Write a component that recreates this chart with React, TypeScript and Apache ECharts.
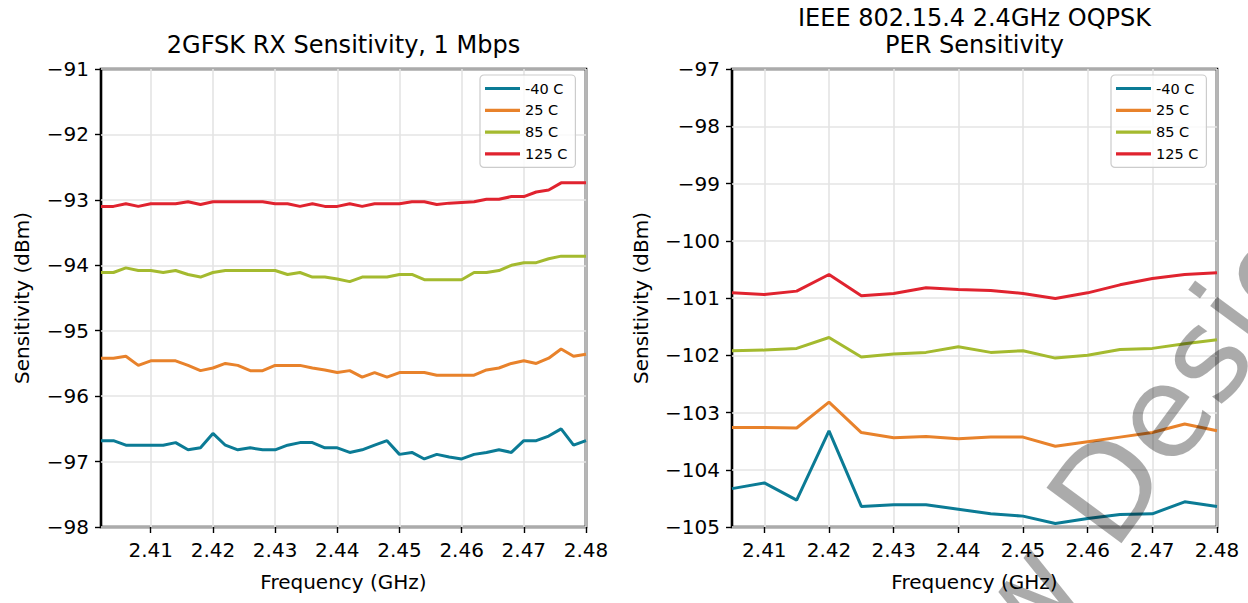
import React, { useEffect, useRef } from "react";
import * as echarts from "echarts";

// ---------- data ----------
const seriesNames = ["-40 C", "25 C", "85 C", "125 C"];
const seriesColors = ["#0b7b95", "#e8822b", "#a4ba2f", "#e0232f"];

// Left chart: 2GFSK 1 Mbps, BLE channels (GHz)
const bleFreq = [
  2.402, 2.404, 2.406, 2.408, 2.41, 2.412, 2.414, 2.416, 2.418, 2.42,
  2.422, 2.424, 2.426, 2.428, 2.43, 2.432, 2.434, 2.436, 2.438, 2.44,
  2.442, 2.444, 2.446, 2.448, 2.45, 2.452, 2.454, 2.456, 2.458, 2.46,
  2.462, 2.464, 2.466, 2.468, 2.47, 2.472, 2.474, 2.476, 2.478, 2.48,
];
const bleM40 = [
  -96.68, -96.68, -96.75, -96.75, -96.75, -96.75, -96.71, -96.82, -96.79, -96.57,
  -96.75, -96.82, -96.79, -96.82, -96.82, -96.75, -96.71, -96.71, -96.79, -96.79,
  -96.86, -96.82, -96.75, -96.68, -96.89, -96.86, -96.96, -96.89, -96.93, -96.96,
  -96.89, -96.86, -96.82, -96.86, -96.68, -96.68, -96.61, -96.5, -96.75, -96.68,
];
const ble25 = [
  -95.42, -95.42, -95.39, -95.53, -95.46, -95.46, -95.46, -95.53, -95.61, -95.57,
  -95.5, -95.53, -95.61, -95.61, -95.53, -95.53, -95.53, -95.57, -95.6, -95.64,
  -95.61, -95.71, -95.64, -95.71, -95.64, -95.64, -95.64, -95.68, -95.68, -95.68,
  -95.68, -95.6, -95.57, -95.5, -95.46, -95.5, -95.42, -95.28, -95.39, -95.36,
];
const ble85 = [
  -94.11, -94.11, -94.04, -94.08, -94.08, -94.11, -94.08, -94.14, -94.18, -94.11,
  -94.08, -94.08, -94.08, -94.08, -94.08, -94.14, -94.11, -94.18, -94.18, -94.21,
  -94.25, -94.18, -94.18, -94.18, -94.14, -94.14, -94.22, -94.22, -94.22, -94.22,
  -94.11, -94.11, -94.08, -94.0, -93.96, -93.96, -93.9, -93.86, -93.86, -93.86,
];
const ble125 = [
  -93.1, -93.1, -93.06, -93.1, -93.06, -93.06, -93.06, -93.03, -93.07, -93.03,
  -93.03, -93.03, -93.03, -93.03, -93.06, -93.06, -93.1, -93.06, -93.1, -93.1,
  -93.06, -93.1, -93.06, -93.06, -93.06, -93.03, -93.03, -93.07, -93.05, -93.04,
  -93.03, -92.99, -92.99, -92.95, -92.95, -92.88, -92.85, -92.74, -92.74, -92.74,
];

// Right chart: IEEE 802.15.4 channels (GHz)
const zbFreq = [
  2.405, 2.41, 2.415, 2.42, 2.425, 2.43, 2.435, 2.44,
  2.445, 2.45, 2.455, 2.46, 2.465, 2.47, 2.475, 2.48,
];
const zbM40 = [
  -104.33, -104.23, -104.53, -103.32, -104.64, -104.61, -104.61, -104.69,
  -104.77, -104.81, -104.94, -104.85, -104.78, -104.77, -104.56, -104.64,
];
const zb25 = [
  -103.26, -103.26, -103.27, -102.82, -103.35, -103.44, -103.42, -103.46,
  -103.43, -103.43, -103.59, -103.51, -103.43, -103.35, -103.2, -103.32,
];
const zb85 = [
  -101.92, -101.91, -101.88, -101.69, -102.03, -101.98, -101.95, -101.85,
  -101.95, -101.92, -102.05, -102.0, -101.9, -101.88, -101.8, -101.73,
];
const zb125 = [
  -100.91, -100.94, -100.88, -100.59, -100.96, -100.92, -100.82, -100.85,
  -100.87, -100.92, -101.01, -100.91, -100.77, -100.66, -100.59, -100.56,
];

const xTickValues = [2.41, 2.42, 2.43, 2.44, 2.45, 2.46, 2.47, 2.48];

const leftTitle = "2GFSK RX Sensitivity, 1 Mbps";
const rightTitle1 = "IEEE 802.15.4 2.4GHz OQPSK";
const rightTitle2 = "PER Sensitivity";
const xName = "Frequency (GHz)";
const yName = "Sensitivity (dBm)";
const watermark = "New Designs";

const FONT = "DejaVu Sans";

function pairs(xs: number[], ys: number[]) {
  return xs.map((x, i) => [x, ys[i]]);
}

export default function App() {
  const ref = useRef<HTMLDivElement>(null);

  useEffect(() => {
    if (!ref.current) return;
    const chart = echarts.init(ref.current, undefined, { renderer: "svg" });

    const grids = [
      { left: 101, top: 69, width: 485, height: 458 },
      { left: 732, top: 69, width: 485, height: 458 },
    ].map((g) => ({
      ...g,
      show: true,
      borderColor: "#000",
      borderWidth: 2.6,
      backgroundColor: "transparent",
      containLabel: false,
    }));

    const makeX = (gridIndex: number, min: number) => ({
      type: "value" as const,
      gridIndex,
      min,
      max: 2.48,
      axisLine: { show: false },
      axisTick: {
        show: true,
        inside: false,
        length: 6,
        customValues: xTickValues,
        lineStyle: { color: "#000", width: 1.4 },
      },
      axisLabel: {
        customValues: xTickValues,
        formatter: (v: number) => v.toFixed(2),
        fontFamily: FONT,
        fontSize: 20,
        color: "#000",
        margin: 13,
      },
      splitLine: { show: true, lineStyle: { color: "#e4e4e4", width: 1.6 } },
    });

    const makeY = (gridIndex: number, min: number, max: number) => ({
      type: "value" as const,
      gridIndex,
      min,
      max,
      interval: 1,
      axisLine: { show: false },
      axisTick: {
        show: true,
        inside: false,
        length: 6,
        lineStyle: { color: "#000", width: 1.4 },
      },
      axisLabel: {
        formatter: (v: number) => (v < 0 ? "\u2212" + Math.abs(v) : String(v)),
        fontFamily: FONT,
        fontSize: 20,
        color: "#000",
        margin: 12,
      },
      splitLine: { show: true, lineStyle: { color: "#e4e4e4", width: 1.6 } },
    });

    const leftData = [bleM40, ble25, ble85, ble125];
    const rightData = [zbM40, zb25, zb85, zb125];

    const series: any[] = [];
    leftData.forEach((ys, i) => {
      series.push({
        type: "line",
        name: seriesNames[i],
        xAxisIndex: 0,
        yAxisIndex: 0,
        data: pairs(bleFreq, ys),
        showSymbol: false,
        symbol: "none",
        itemStyle: { color: seriesColors[i] },
        lineStyle: { color: seriesColors[i], width: 3 },
        z: 3 + i,
      });
    });
    rightData.forEach((ys, i) => {
      series.push({
        type: "line",
        name: seriesNames[i],
        xAxisIndex: 1,
        yAxisIndex: 1,
        data: pairs(zbFreq, ys),
        showSymbol: false,
        symbol: "none",
        itemStyle: { color: seriesColors[i] },
        lineStyle: { color: seriesColors[i], width: 3 },
        z: 3 + i,
      });
    });

    const legendBase = {
      orient: "vertical" as const,
      top: 75,
      data: seriesNames,
      icon: "rect",
      itemWidth: 35,
      itemHeight: 3.2,
      itemGap: 6.8,
      itemTextGap: 10,
      padding: [6, 8, 6, 5],
      backgroundColor: "rgba(255,255,255,0.8)",
      borderColor: "#cccccc",
      borderWidth: 1.2,
      borderRadius: 4,
      selectedMode: false,
      textStyle: {
        fontFamily: FONT,
        fontSize: 14.5,
        lineHeight: 15,
        color: "#000",
      },
    };

    const textStyle = (fontSize: number) => ({
      fill: "#000",
      font: `${fontSize}px "${FONT}"`,
      textAlign: "center",
      textVerticalAlign: "middle",
    });

    const wmAngle = (53.5 * Math.PI) / 180;

    chart.setOption({
      animation: false,
      backgroundColor: "#ffffff",
      grid: grids,
      xAxis: [makeX(0, 2.402), makeX(1, 2.405)],
      yAxis: [makeY(0, -98, -91), makeY(1, -105, -97)],
      legend: [
        { ...legendBase, left: 480 },
        { ...legendBase, left: 1111 },
      ],
      series,
      graphic: [
        { type: "text", x: 343.5, y: 45, style: { ...textStyle(24), text: leftTitle } },
        { type: "text", x: 974.5, y: 18, style: { ...textStyle(24), text: rightTitle1 } },
        { type: "text", x: 974.5, y: 45, style: { ...textStyle(24), text: rightTitle2 } },
        { type: "text", x: 343.5, y: 582, style: { ...textStyle(20), text: xName } },
        { type: "text", x: 974.5, y: 582, style: { ...textStyle(20), text: xName } },
        {
          type: "text",
          x: 22,
          y: 298,
          rotation: Math.PI / 2,
          style: { ...textStyle(20), text: yName },
        },
        {
          type: "text",
          x: 641,
          y: 298,
          rotation: Math.PI / 2,
          style: { ...textStyle(20), text: yName },
        },
        {
          type: "text",
          x: 888,
          y: 784,
          rotation: wmAngle,
          z: 100,
          silent: true,
          style: {
            text: watermark,
            fill: "rgba(0,0,0,0.33)",
            font: `128px "${FONT}"`,
            textAlign: "left",
            textVerticalAlign: "middle",
          },
        },
      ],
    });

    return () => chart.dispose();
  }, []);

  return (
    <div
      ref={ref}
      style={{ position: "fixed", left: 0, top: 0, width: 1248, height: 603 }}
    />
  );
}
